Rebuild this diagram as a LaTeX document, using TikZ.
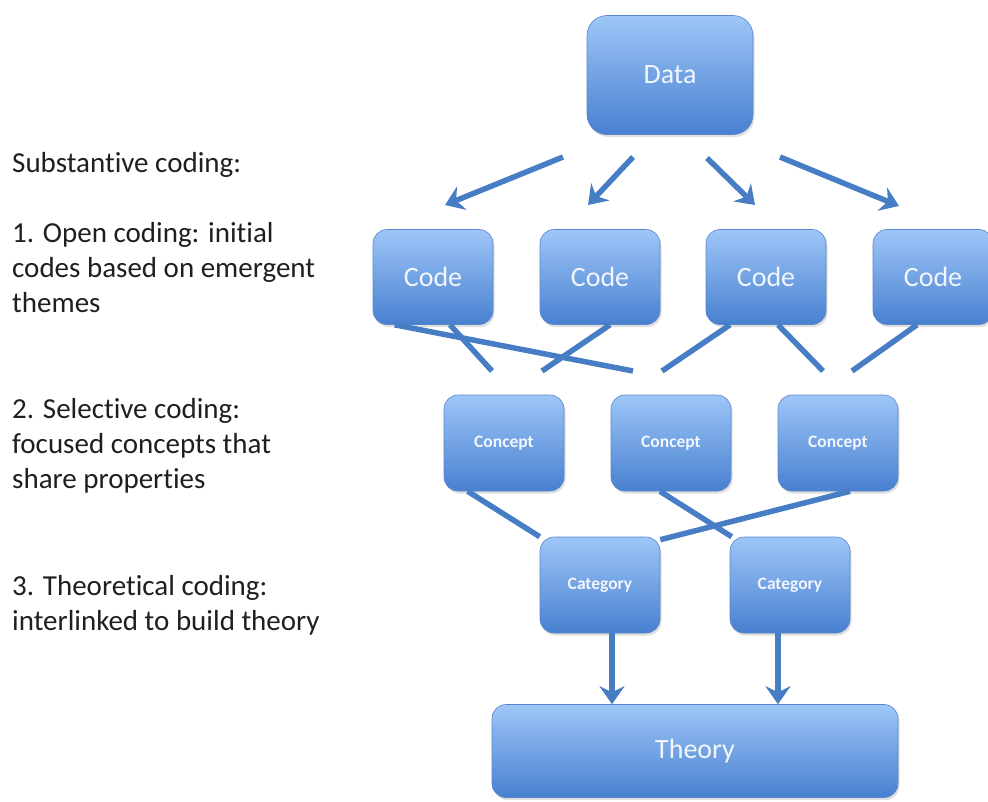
\documentclass[tikz,border=0pt]{standalone}
\usepackage{fontspec}
\setmainfont{Carlito}[Ligatures=NoCommon]
\usetikzlibrary{arrows.meta,shadows,calc}

\definecolor{boxtop}{RGB}{158,198,248}
\definecolor{boxbot}{RGB}{72,128,208}
\definecolor{boxedge}{RGB}{88,134,202}
\definecolor{linkblue}{RGB}{70,125,196}
\definecolor{boxtext}{RGB}{242,246,252}

\tikzset{
  box/.style={rectangle, rounded corners=14pt, top color=boxtop, bottom color=boxbot,
    draw=boxedge, line width=0.6pt, text=boxtext, inner sep=0pt,
    drop shadow={shadow xshift=1.5pt, shadow yshift=-2.5pt, opacity=0.25}},
  bigbox/.style={box, font=\fontsize{28}{34}\selectfont},
  smallbox/.style={box, font=\fontsize{17.5}{21}\selectfont\bfseries},
  codebox/.style={bigbox, minimum width=120pt, minimum height=95pt},
  conceptbox/.style={smallbox, minimum width=120pt, minimum height=96pt},
  link/.style={draw=linkblue, line width=5.5pt},
  flow/.style={link, -{Stealth[length=18pt,width=25pt,inset=6pt]}},
  note/.style={anchor=base west, inner sep=0pt, text=black!88,
    font=\fontsize{29}{35}\selectfont}
}

\begin{document}
\begin{tikzpicture}[x=1pt,y=-1pt]
\useasboundingbox (0,0) rectangle (988,801);

% explanatory text on the left
\node[note] (t0) at (12,172) {Substantive coding:};
\node[note] (t1a) at (12,242) {1. Open coding: initial};
\node[note] (t1b) at (12,277) {codes based on emergent};
\node[note] (t1c) at (12,312) {themes};
\node[note] (t2a) at (12,418) {2. Selective coding:};
\node[note] (t2b) at (12,453) {focused concepts that};
\node[note] (t2c) at (12,488) {share properties};
\node[note] (t3a) at (12,595) {3. Theoretical coding:};
\node[note] (t3b) at (12,630) {interlinked to build theory};

% boxes
\node[bigbox, rounded corners=20pt, minimum width=166pt, minimum height=119pt] (data) at (670,75) {Data};

\node[codebox] (code1) at (433,277) {Code};
\node[codebox] (code2) at (600,277) {Code};
\node[codebox] (code3) at (766,277) {Code};
\node[codebox] (code4) at (933,277) {Code};

\node[conceptbox] (con1) at (504,443) {Concept};
\node[conceptbox] (con2) at (671,443) {Concept};
\node[conceptbox] (con3) at (838,443) {Concept};

\node[conceptbox] (cat1) at (600,585) {Category};
\node[conceptbox] (cat2) at (790,585) {Category};

\node[bigbox, minimum width=406pt, minimum height=93pt] (theory) at (695,751) {Theory};

% arrows from the data towards the codes
\coordinate (a1s) at (563,157); \coordinate (a1e) at (445,205);
\coordinate (a2s) at (633,157); \coordinate (a2e) at (588,205);
\coordinate (a3s) at (707,158); \coordinate (a3e) at (755,205);
\coordinate (a4s) at (780,157); \coordinate (a4e) at (899,206);
\draw[flow] (a1s) -- (a1e);
\draw[flow] (a2s) -- (a2e);
\draw[flow] (a3s) -- (a3e);
\draw[flow] (a4s) -- (a4e);

% links from the codes, ending above the concepts
\coordinate (e1) at (633,371);
\coordinate (e2) at (492,371);
\coordinate (e3) at (542,371);
\coordinate (e4) at (662,371);
\coordinate (e5) at (823,371);
\coordinate (e6) at (852,371);
\draw[link] ([xshift=22pt]code1.south west) -- (e1);
\draw[link] ([xshift=17pt]code1.south) -- (e2);
\draw[link] ([xshift=10pt]code2.south) -- (e3);
\draw[link] ([xshift=-36pt]code3.south) -- (e4);
\draw[link] ([xshift=12pt]code3.south) -- (e5);
\draw[link] ([xshift=-16pt]code4.south) -- (e6);

% links from the concepts to the categories
\draw[link] ([xshift=24pt]con1.south west) -- (cat1.north west);
\draw[link] ([xshift=-11pt]con2.south) -- ([xshift=2pt]cat2.north west);
\draw[link] ([xshift=12pt]con3.south) -- ([yshift=-3pt]cat1.north east);

% categories feeding the theory
\draw[flow] ([xshift=12pt]cat1.south) -- ([xshift=12pt]cat1.south |- theory.north);
\draw[flow] ([xshift=-12pt]cat2.south) -- ([xshift=-12pt]cat2.south |- theory.north);
\end{tikzpicture}
\end{document}
